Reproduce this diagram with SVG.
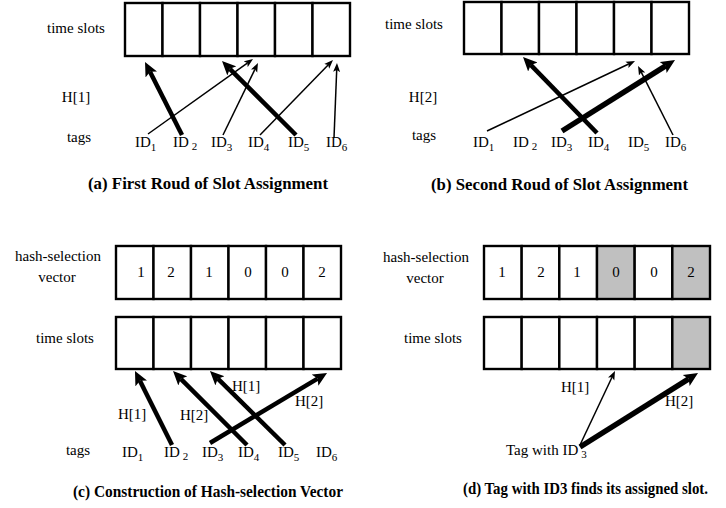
<svg xmlns="http://www.w3.org/2000/svg" width="726" height="508" viewBox="0 0 726 508">
  <style>
    text { font-family: "Liberation Serif", Tinos, "Noto Serif", "DejaVu Serif", FreeSerif, "Nimbus Roman", "Nimbus Roman No9 L", "Times New Roman", Times, serif; fill: #000; }
    .lbl { font-size: 15px; }
    .mid { text-anchor: middle; }
    .sub { font-size: 11px; }
    .title { font-size: 16px; font-weight: bold; }
    .cell { fill: #fff; stroke: #000; stroke-width: 2.4; }
    .cell.hit { fill: #c0c0c0; }
    .thin { stroke: #000; stroke-width: 1.5; fill: none; marker-end: url(#headThin); }
    .thick { stroke: #000; stroke-width: 4.5; fill: none; marker-end: url(#headThick); }
    .heavy { stroke: #000; stroke-width: 5.5; fill: none; marker-end: url(#headThick); }
  </style>
  <defs>
    <marker id="headThin" markerUnits="userSpaceOnUse" markerWidth="10" markerHeight="8" viewBox="0 -4 10 8" refX="2" refY="0" orient="auto">
      <path d="M0,-3.5 L9,0 L0,3.5 L2,0 Z" fill="#000"/>
    </marker>
    <marker id="headThick" markerUnits="userSpaceOnUse" markerWidth="15" markerHeight="14" viewBox="0 -7 15 14" refX="3" refY="0" orient="auto">
      <path d="M0,-6.5 L14,0 L0,6.5 L3,0 Z" fill="#000"/>
    </marker>
  </defs>

  <!-- (a) first round -->
  <g id="a-slots">
    <rect class="cell" x="125" y="3" width="37.5" height="53"/>
    <rect class="cell" x="162.5" y="3" width="37.5" height="53"/>
    <rect class="cell" x="200" y="3" width="37.5" height="53"/>
    <rect class="cell" x="237.5" y="3" width="37.5" height="53"/>
    <rect class="cell" x="275" y="3" width="37.5" height="53"/>
    <rect class="cell" x="312.5" y="3" width="37.5" height="53"/>
  </g>
  <g id="a-labels">
    <text class="lbl mid" x="76" y="33">time slots</text>
    <text class="lbl mid" x="76" y="102">H[1]</text>
    <text class="lbl mid" x="79" y="142">tags</text>
  </g>
  <g id="a-tags" class="lbl">
    <text x="135" y="147">ID<tspan class="sub" dy="4">1</tspan></text>
    <text x="173" y="147">ID<tspan class="sub" dx="3" dy="3">2</tspan></text>
    <text x="211" y="147">ID<tspan class="sub" dy="4">3</tspan></text>
    <text x="248" y="147">ID<tspan class="sub" dy="4">4</tspan></text>
    <text x="288" y="147">ID<tspan class="sub" dy="4">5</tspan></text>
    <text x="326" y="147">ID<tspan class="sub" dy="4">6</tspan></text>
  </g>
  <text class="title" x="88" y="189" textLength="240" lengthAdjust="spacingAndGlyphs">(a) First Roud of Slot Assignment</text>

  <!-- (b) second round -->
  <g id="b-slots">
    <rect class="cell" x="464" y="2" width="37.5" height="52"/>
    <rect class="cell" x="501.5" y="2" width="37.5" height="52"/>
    <rect class="cell" x="539" y="2" width="37.5" height="52"/>
    <rect class="cell" x="576.5" y="2" width="37.5" height="52"/>
    <rect class="cell" x="614" y="2" width="37.5" height="52"/>
    <rect class="cell" x="651.5" y="2" width="37.5" height="52"/>
  </g>
  <g id="b-labels">
    <text class="lbl mid" x="414" y="29">time slots</text>
    <text class="lbl mid" x="423" y="102">H[2]</text>
    <text class="lbl mid" x="424" y="140">tags</text>
  </g>
  <g id="b-tags" class="lbl">
    <text x="473" y="147">ID<tspan class="sub" dy="4">1</tspan></text>
    <text x="513" y="147">ID<tspan class="sub" dx="3" dy="3">2</tspan></text>
    <text x="551" y="147">ID<tspan class="sub" dy="4">3</tspan></text>
    <text x="588" y="147">ID<tspan class="sub" dy="4">4</tspan></text>
    <text x="628" y="147">ID<tspan class="sub" dy="4">5</tspan></text>
    <text x="665" y="147">ID<tspan class="sub" dy="4">6</tspan></text>
  </g>
  <text class="title" x="431" y="190" textLength="257" lengthAdjust="spacingAndGlyphs">(b) Second Roud of Slot Assignment</text>

  <!-- (c) construction of the hash-selection vector -->
  <g id="c-vector">
    <rect class="cell" x="116" y="246" width="37.5" height="53"/>
    <rect class="cell" x="153.5" y="246" width="37.5" height="53"/>
    <rect class="cell" x="191" y="246" width="37.5" height="53"/>
    <rect class="cell" x="228.5" y="246" width="37.5" height="53"/>
    <rect class="cell" x="266" y="246" width="37.5" height="53"/>
    <rect class="cell" x="303.5" y="246" width="37.5" height="53"/>
    <g class="lbl mid">
      <text x="141" y="277">1</text>
      <text x="171" y="277">2</text>
      <text x="209" y="277">1</text>
      <text x="248" y="277">0</text>
      <text x="285" y="277">0</text>
      <text x="322" y="277">2</text>
    </g>
  </g>
  <g id="c-slots">
    <rect class="cell" x="116" y="317" width="37.5" height="52"/>
    <rect class="cell" x="153.5" y="317" width="37.5" height="52"/>
    <rect class="cell" x="191" y="317" width="37.5" height="52"/>
    <rect class="cell" x="228.5" y="317" width="37.5" height="52"/>
    <rect class="cell" x="266" y="317" width="37.5" height="52"/>
    <rect class="cell" x="303.5" y="317" width="37.5" height="52"/>
  </g>
  <g id="c-labels">
    <text class="lbl mid" x="58" y="261">hash-selection</text>
    <text class="lbl mid" x="57" y="282">vector</text>
    <text class="lbl mid" x="65" y="343">time slots</text>
    <text class="lbl mid" x="78" y="455">tags</text>
    <text class="lbl" x="118" y="419">H[1]</text>
    <text class="lbl" x="180" y="420">H[2]</text>
    <text class="lbl" x="232" y="391">H[1]</text>
    <text class="lbl" x="295" y="406">H[2]</text>
  </g>
  <g id="c-tags" class="lbl">
    <text x="122" y="457">ID<tspan class="sub" dy="4">1</tspan></text>
    <text x="164" y="457">ID<tspan class="sub" dx="3" dy="3">2</tspan></text>
    <text x="202" y="457">ID<tspan class="sub" dy="4">3</tspan></text>
    <text x="238" y="457">ID<tspan class="sub" dy="4">4</tspan></text>
    <text x="278" y="457">ID<tspan class="sub" dy="4">5</tspan></text>
    <text x="316" y="457">ID<tspan class="sub" dy="4">6</tspan></text>
  </g>
  <text class="title" x="73" y="497" textLength="270" lengthAdjust="spacingAndGlyphs">(c) Construction of Hash-selection Vector</text>

  <!-- (d) tag ID3 looks up its slot -->
  <g id="d-vector">
    <rect class="cell" x="484" y="246" width="37.67" height="53"/>
    <rect class="cell" x="521.67" y="246" width="37.67" height="53"/>
    <rect class="cell" x="559.33" y="246" width="37.67" height="53"/>
    <rect class="cell hit" x="597" y="246" width="37.67" height="53"/>
    <rect class="cell" x="634.67" y="246" width="37.67" height="53"/>
    <rect class="cell hit" x="672.33" y="246" width="37.67" height="53"/>
    <g class="lbl mid">
      <text x="502" y="277">1</text>
      <text x="541" y="277">2</text>
      <text x="577" y="277">1</text>
      <text x="616" y="277">0</text>
      <text x="654" y="277">0</text>
      <text x="691" y="277">2</text>
    </g>
  </g>
  <g id="d-slots">
    <rect class="cell" x="484" y="317" width="37.67" height="52"/>
    <rect class="cell" x="521.67" y="317" width="37.67" height="52"/>
    <rect class="cell" x="559.33" y="317" width="37.67" height="52"/>
    <rect class="cell" x="597" y="317" width="37.67" height="52"/>
    <rect class="cell" x="634.67" y="317" width="37.67" height="52"/>
    <rect class="cell hit" x="672.33" y="317" width="37.67" height="52"/>
  </g>
  <g id="d-labels">
    <text class="lbl mid" x="426" y="262">hash-selection</text>
    <text class="lbl mid" x="425" y="283">vector</text>
    <text class="lbl mid" x="433" y="343">time slots</text>
    <text class="lbl" x="561" y="392">H[1]</text>
    <text class="lbl" x="665" y="406">H[2]</text>
  </g>
  <g id="d-tag">
    <text class="lbl" x="506" y="455">Tag with ID<tspan class="sub" dx="3" dy="3">3</tspan></text>
  </g>
  <text class="title" x="463" y="494" textLength="245" lengthAdjust="spacingAndGlyphs">(d) Tag with ID3 finds its assigned slot.</text>

  <!-- hash arrows from tags to slots -->
  <g id="connectors">
    <!-- (a) H[1] -->
    <line class="thick" x1="182" y1="135" x2="150" y2="71.8"/>
    <line class="thin" x1="148" y1="134" x2="247.3" y2="63.1"/>
    <line class="thin" x1="223" y1="135" x2="254.9" y2="69.3"/>
    <line class="thick" x1="296" y1="135" x2="229.8" y2="68.8"/>
    <line class="thin" x1="260" y1="135" x2="328.1" y2="65"/>
    <line class="thin" x1="334" y1="138" x2="336.7" y2="70"/>
    <!-- (b) H[2] -->
    <line class="thick" x1="597" y1="133" x2="530.7" y2="64.9"/>
    <line class="thin" x1="487" y1="131" x2="628.7" y2="64"/>
    <line class="heavy" x1="562" y1="131" x2="665.7" y2="65.9"/>
    <line class="thin" x1="673" y1="135" x2="641.2" y2="72.2"/>
    <!-- (c) selected hashes -->
    <line class="thick" x1="172" y1="445" x2="139.9" y2="380.8"/>
    <line class="thick" x1="247" y1="445" x2="180.8" y2="378.8"/>
    <line class="thick" x1="285" y1="445" x2="217.8" y2="378.7"/>
    <line class="thick" x1="210" y1="443" x2="317.6" y2="378.6"/>
    <!-- (d) lookup for ID3 -->
    <line class="thin" x1="580" y1="445" x2="612" y2="377.3"/>
    <line class="heavy" x1="580" y1="447" x2="688.7" y2="378.8"/>
  </g>
</svg>
